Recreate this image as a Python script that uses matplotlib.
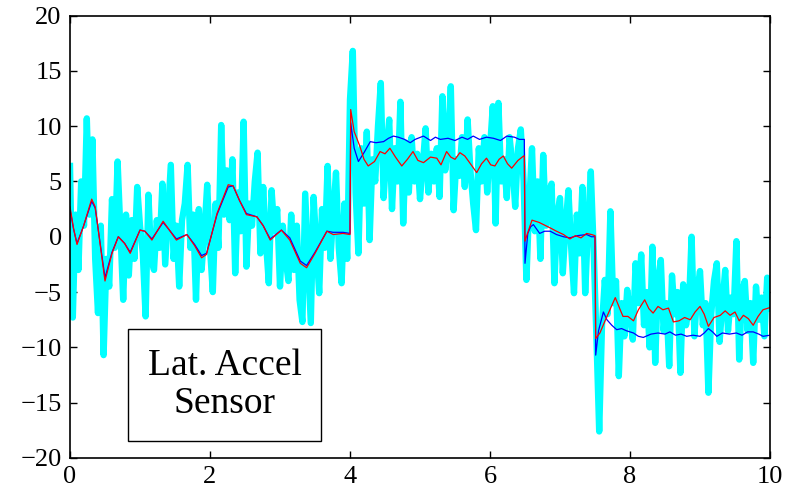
import numpy as np
import matplotlib
matplotlib.use("Agg")
import matplotlib.pyplot as plt

# raw sensor (cyan), sampled every 0.04 s from 0 to 10 s
cyan_y = [
    6.4, -7.3, 2.0, -3.0, 5.0, 1.0, 10.7, 2.0, 8.8, -2.0, -6.9, 1.0, -10.7, -2.0, -4.5, 3.4, -1.0, 6.8, 0.5, -5.7, 2.0, -3.5, 1.5, -2.0, 4.5,
    1.0, -1.5, -7.2, 3.8, -2.0, -3.0, 1.5, -1.0, 4.8, -2.5, 2.0, 6.5, -2.0, 1.0, -4.5, 1.5, 3.0, 6.5, -1.0, 2.0, -5.7, 2.5, -3.0, 0.5, 4.7,
    -1.0, -5.0, 3.0, -1.0, 10.1, 2.0, 6.0, 1.5, 7.0, -3.3, 4.0, 0.5, 10.4, -2.7, 3.0, 1.0, 5.0, 7.6, -1.5, 4.5, -0.5, -4.2, 4.2, 0.5, 2.5,
    -4.5, 1.0, -2.0, -4.0, 2.0, -3.0, 1.0, -5.7, -7.7, 3.9, -2.0, -7.8, 3.6, -1.0, -5.1, 2.5, -1.0, 6.4, -2.0, 2.0, 5.8, -1.0, -4.2, 3.0, -2.0,
    12.4, 16.8, 4.0, -1.5, 8.0, 3.0, 9.5, -0.3, 7.0, 5.0, 10.0, 13.9, 3.5, 7.5, 10.6, 2.5, 8.0, 5.0, 12.2, 1.2, 8.5, 4.0, 9.0, 5.0, 7.5,
    3.4, 6.5, 9.8, 4.0, 7.5, 5.0, 8.0, 3.6, 12.7, 6.0, 8.5, 13.6, 2.4, 7.0, 5.5, 9.0, 4.5, 10.6, 6.0, 3.0, 0.6, 8.0, 5.0, 9.0, 4.0,
    8.0, 11.8, 1.2, 12.1, 5.0, 7.0, 3.5, 9.0, 6.5, 2.7, 8.0, 9.7, 5.0, -3.9, 3.0, 8.0, 0.5, 5.0, -2.0, 7.4, 1.0, 4.0, 4.8, -4.2, 2.0,
    3.5, -3.3, 1.0, 4.2, -1.0, -5.1, 2.0, -1.5, 4.5, -5.1, 1.0, 5.9, -1.0, -9.0, -17.6, -8.0, -3.9, -7.0, 2.3, -6.0, -4.0, -12.6, -6.0, -9.0, -4.8,
    -7.0, -9.3, -2.4, -6.0, -1.6, -8.0, -5.0, -10.0, -0.9, -11.4, -4.0, -2.1, -8.5, -6.0, -11.7, -3.5, -7.0, -5.0, -12.3, -4.3, -8.0, -6.5, 0.0, -9.0, -5.0,
    -3.1, -8.0, -6.0, -14.1, -7.0, -4.0, -2.4, -9.5, -6.0, -3.0, -8.5, -5.5, -7.0, -0.4, -11.1, -5.0, -4.0, -8.5, -6.0, -11.4, -4.5, -7.5, -5.5, -9.0, -3.7,
    -6.5,
]
cyan_t = np.round(np.arange(len(cyan_y)) * 0.04, 2)

# estimate 1 (red)
red_t = [0.0, 0.05, 0.1, 0.19, 0.31, 0.36, 0.5, 0.6, 0.69, 0.78, 0.86, 1.0, 1.07, 1.17, 1.33, 1.42, 1.52, 1.67, 1.78, 1.88,
         1.95, 2.1, 2.26, 2.33, 2.42, 2.52, 2.67, 2.76, 2.86, 3.02, 3.14, 3.29, 3.38, 3.5, 3.67, 3.76, 3.9, 4.0,
         4.01, 4.06, 4.14, 4.2, 4.26, 4.35, 4.43, 4.5, 4.57, 4.65, 4.74, 4.82, 4.9, 4.97, 5.05, 5.15, 5.24, 5.3,
         5.38, 5.44, 5.5, 5.57, 5.64, 5.72, 5.81, 5.88, 5.95, 6.01, 6.07, 6.13, 6.19, 6.25, 6.31, 6.4, 6.48, 6.49,
         6.5, 6.53, 6.6, 6.7, 6.86, 6.95, 7.05, 7.14, 7.22, 7.3, 7.38, 7.45, 7.5,
         7.51, 7.57, 7.65, 7.72, 7.79, 7.86, 7.9, 7.97, 8.05, 8.12, 8.21, 8.27, 8.33, 8.4, 8.47, 8.55, 8.62, 8.7,
         8.78, 8.86, 8.93, 9.0, 9.06, 9.12, 9.2, 9.29, 9.36, 9.43, 9.5, 9.56, 9.62, 9.69, 9.76, 9.83, 9.9, 10.0]
red_y = [2.7, 0.8, -0.7, 0.9, 3.4, 2.7, -4.0, -1.5, 0.0, -0.6, -1.5, 0.6, 0.5, -0.3, 1.4, 0.6, -0.3, 0.2, -0.8, -1.9,
         -1.6, 2.1, 4.7, 4.6, 3.3, 2.0, 1.8, 1.0, -0.3, 0.6, -0.3, -2.4, -2.8, -1.5, 0.5, 0.2, 0.3, 0.2,
         11.5, 9.5, 8.2, 7.0, 6.4, 6.8, 7.7, 7.5, 8.0, 7.2, 6.4, 7.0, 7.7, 6.9, 6.7, 7.2, 7.1, 6.5,
         7.7, 7.2, 7.0, 7.6, 7.3, 6.6, 5.8, 6.6, 7.1, 6.5, 6.4, 7.0, 7.3, 6.6, 6.2, 6.9, 7.3, 7.3,
         -0.4, 0.2, 1.5, 1.3, 0.8, 0.5, 0.2, -0.2, 0.1, -0.1, 0.3, 0.2, 0.1,
         -9.2, -8.7, -7.5, -6.5, -5.5, -6.6, -7.2, -7.2, -7.6, -6.6, -5.7, -6.5, -6.9, -6.3, -6.6, -6.45, -7.7, -7.6,
         -7.3, -7.5, -6.8, -6.3, -7.0, -8.1, -7.3, -7.1, -6.7, -7.1, -6.8, -7.6, -7.1, -7.4, -8.0, -7.2, -6.6, -6.4]

# estimate 2 (blue)
blue_t = [0.0, 0.05, 0.1, 0.19, 0.31, 0.36, 0.5, 0.6, 0.69, 0.78, 0.86, 1.0, 1.07, 1.17, 1.33, 1.42, 1.52, 1.67, 1.78, 1.88,
          1.95, 2.1, 2.26, 2.33, 2.42, 2.52, 2.67, 2.76, 2.86, 3.02, 3.14, 3.29, 3.38, 3.5, 3.67, 3.76, 3.9, 4.0,
          4.01, 4.06, 4.12, 4.2, 4.29, 4.37, 4.48, 4.55, 4.62, 4.69, 4.78, 4.86, 4.93, 5.05, 5.15, 5.22, 5.29, 5.4,
          5.5, 5.6, 5.68, 5.76, 5.85, 5.95, 6.05, 6.15, 6.24, 6.35, 6.42, 6.48, 6.49,
          6.5, 6.54, 6.58, 6.62, 6.71, 6.78, 6.86, 6.95, 7.05, 7.14, 7.25, 7.38, 7.45, 7.5,
          7.51, 7.55, 7.62, 7.67, 7.74, 7.81, 7.88, 7.95, 8.05, 8.12, 8.19, 8.3, 8.4, 8.5, 8.57, 8.65, 8.73, 8.81,
          8.9, 9.0, 9.06, 9.12, 9.18, 9.24, 9.32, 9.42, 9.52, 9.6, 9.68, 9.76, 9.84, 9.9, 10.0]
blue_y = [2.5, 0.7, -0.6, 0.9, 3.2, 2.6, -3.7, -1.4, 0.0, -0.6, -1.4, 0.6, 0.5, -0.2, 1.3, 0.6, -0.2, 0.2, -0.7, -1.7,
          -1.5, 2.0, 4.5, 4.6, 3.3, 2.1, 1.8, 1.0, -0.2, 0.6, -0.1, -2.2, -2.6, -1.4, 0.5, 0.4, 0.4, 0.3,
          10.3, 8.0, 6.8, 7.6, 8.6, 8.5, 8.6, 8.9, 9.1, 9.0, 8.8, 8.5, 8.8, 9.1, 8.7, 9.0, 8.8, 8.9,
          8.7, 9.0, 8.8, 9.1, 8.8, 9.0, 8.9, 8.7, 9.1, 9.0, 8.8, 8.8, 8.8,
          -2.4, 0.3, 0.9, 1.1, 0.3, 0.5, 0.5, 0.2, 0.0, -0.1, 0.1, 0.2, 0.0, 0.0,
          -10.7, -8.5, -6.8, -7.5, -8.0, -8.4, -8.3, -8.5, -8.7, -9.0, -9.1, -8.8, -8.7, -8.8, -8.6, -8.9, -8.8, -9.0,
          -8.9, -9.0, -8.7, -8.3, -8.6, -9.0, -8.7, -8.8, -8.7, -8.9, -8.6, -8.6, -8.8, -9.0, -8.9]

x_ticks = [0, 2, 4, 6, 8, 10]
y_ticks = [-20, -15, -10, -5, 0, 5, 10, 15, 20]

plt.rcParams['font.family'] = ['Liberation Serif', 'DejaVu Serif']

fig = plt.figure(figsize=(7.96, 4.95), dpi=100)
ax = fig.add_axes([70 / 796, 1 - 458 / 495, 700 / 796, 442.5 / 495])

ax.plot(cyan_t, cyan_y, color="cyan", lw=4.6, solid_joinstyle='round')
ax.plot(blue_t, blue_y, color="blue", lw=0.9)
ax.plot(red_t, red_y, color="red", lw=0.9)

ax.set_xlim(0, 10)
ax.set_ylim(-20, 20)
ax.set_xticks(x_ticks)
ax.set_yticks(y_ticks)
ax.tick_params(direction='in', top=True, right=True, length=5, width=1, labelsize=19, pad=6)
for s in ax.spines.values():
    s.set_linewidth(1.2)

ax.text(0.221, 0.165, "Lat. Accel\nSensor", transform=ax.transAxes, ha='center', va='center',
        fontsize=27, linespacing=1.15,
        bbox=dict(boxstyle='square,pad=0.52', fc='white', ec='black', lw=1))

fig.savefig("out.png", dpi=100)
